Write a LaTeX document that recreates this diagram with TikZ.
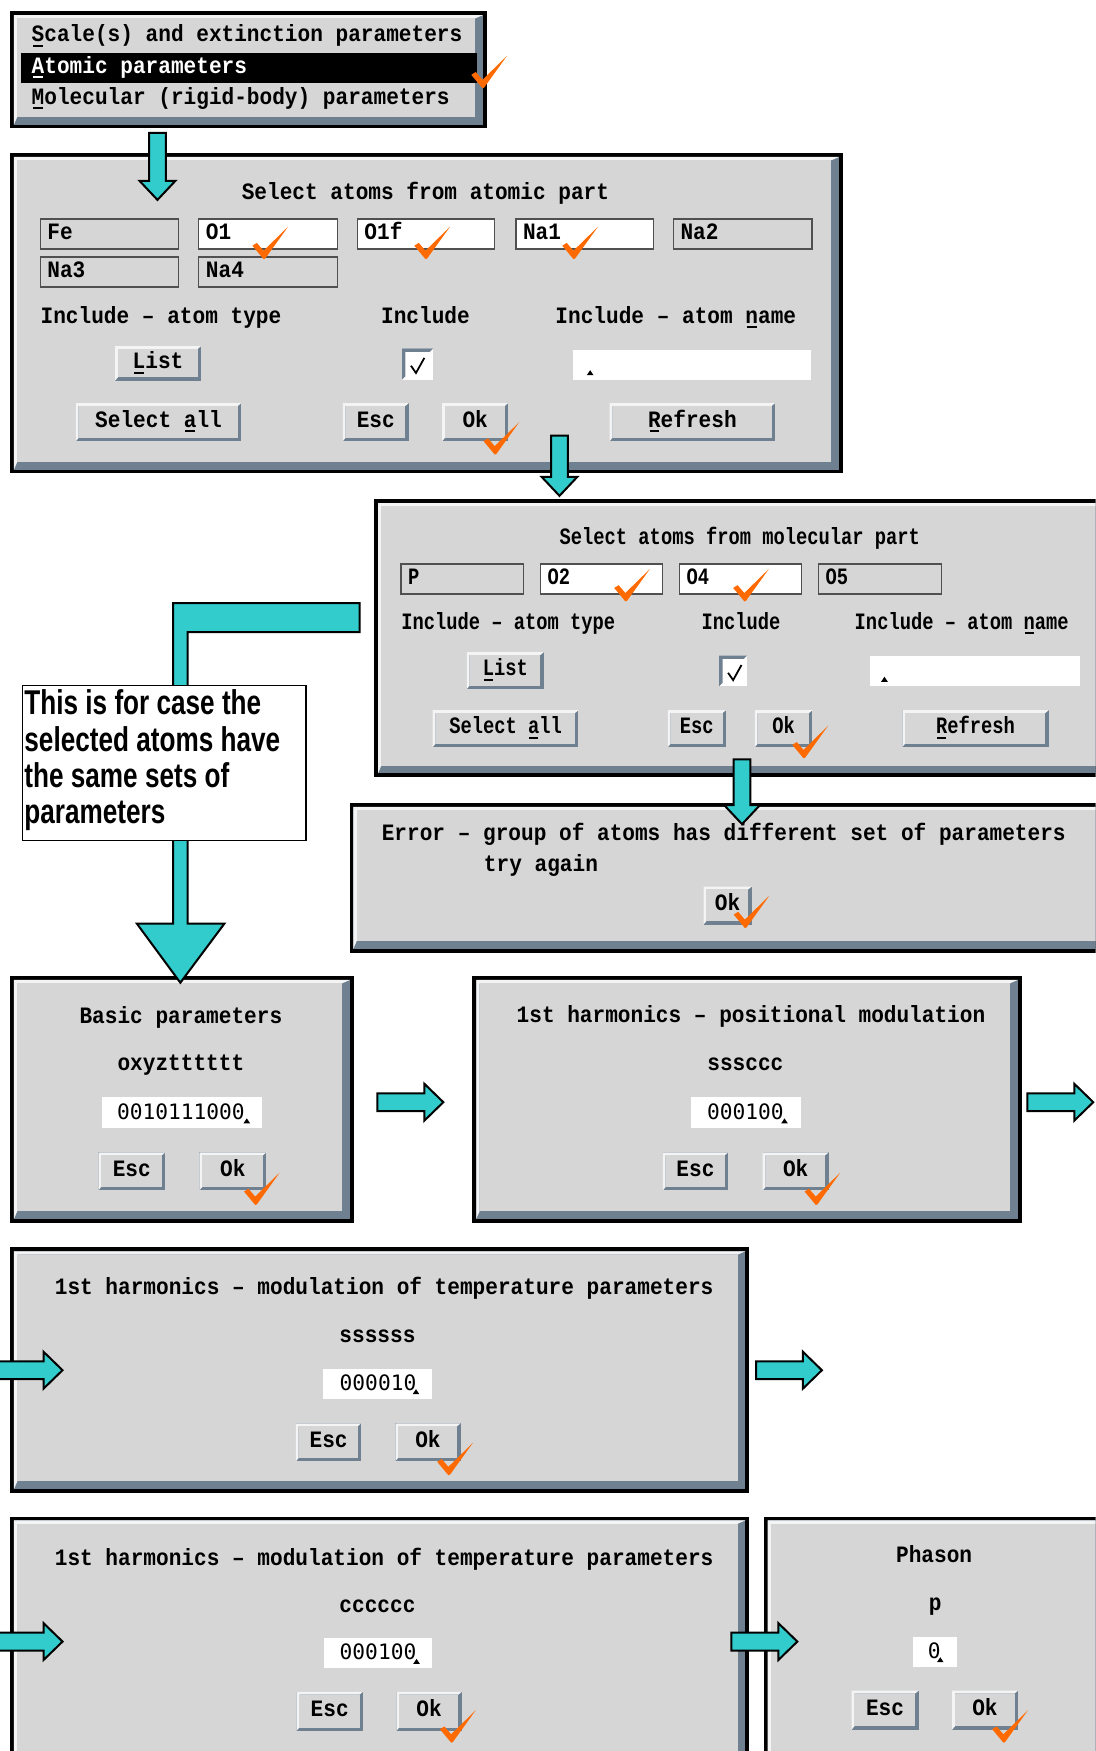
\documentclass[tikz,border=0pt]{standalone}
\usepackage{fontspec}
\usetikzlibrary{positioning}

\newfontfamily\guifont[FakeStretch=0.9]{Liberation Mono}
\newfontfamily\guinarrow[FakeStretch=0.8]{Liberation Mono}
\newfontfamily\valfont{DejaVu Sans Mono}
\newfontfamily\notefont[FakeStretch=0.76]{Liberation Sans}

\definecolor{panelgray}{HTML}{D6D6D6}
\definecolor{bvdark}{HTML}{6F8091}
\definecolor{bvlight}{HTML}{F4F4F4}
\definecolor{fldedge}{HTML}{505050}
\definecolor{flowcyan}{HTML}{33CCCC}
\definecolor{okorange}{HTML}{FF6A00}

% underlined mnemonic letter
\newcommand{\mnemo}[1]{\setbox0=\hbox{#1}\rlap{\hspace{0.12\wd0}\rule[-2.2pt]{0.76\wd0}{0.9pt}}#1}

% window: black frame, bevel, grey face
\newcommand{\guiwin}[4]{%
  \fill[black] (#1,#2) rectangle (#3,#4);
  \fill[bvdark] (#1+3.5,#2+3.5) rectangle (#3-3.5,#4-3.5);
  \fill[bvlight] (#1+3.5,#4-3.5) -- (#1+3.5,#2+3.5) -- (#3-3.5,#2+3.5)
    -- (#3-10.5,#2+6.5) -- (#1+6.5,#2+6.5) -- (#1+6.5,#4-10.5) -- cycle;
  \fill[panelgray] (#1+6.5,#2+6.5) rectangle (#3-10.5,#4-10.5);
}

% raised push button: style, name, x1, y1, x2, y2, label
\newcommand{\guibtn}[7]{%
  \fill[bvdark] (#3,#4) rectangle (#5,#6);
  \fill[bvlight] (#3,#6) -- (#3,#4) -- (#5,#4) -- (#5-3,#4+2.5) -- (#3+2.5,#4+2.5) -- (#3+2.5,#6-3) -- cycle;
  \fill[panelgray] (#3+2.5,#4+2.5) rectangle (#5-3,#6-3);
  \node[#1] (#2) at ({(#3+#5)/2},{(#4+#6)/2}) {#7};
}

% atom name field: style, name, x1, y1, x2, y2, fill, label
\newcommand{\atomfld}[8]{%
  \filldraw[fill=#7, draw=fldedge, line width=0.6pt] (#3,#4) rectangle (#5,#6);
  \node[#1, anchor=west] (#2) at (#3+6,{(#4+#6)/2}) {#8};
}

% value entry with caret: name, x1, y1, x2, y2, text x, caret x, text
\newcommand{\valfld}[8]{%
  \fill[white] (#2,#3) rectangle (#4,#5);
  \node[valtext] (#1) at (#6,{(#3+#5)/2-1}) {#8};
  \fill (#7-3,#5-4) -- (#7,#5-8.5) -- (#7+3,#5-4) -- cycle;
}

% sunken toggle, ticked
\newcommand{\chkbox}[4]{%
  \fill[white] (#1,#2) rectangle (#3,#4);
  \fill[bvdark] (#1,#4) -- (#1,#2) -- (#3,#2) -- (#3-3,#2+3) -- (#1+3,#2+3) -- (#1+3,#4-3) -- cycle;
  \draw[line width=0.8pt] (#1+8,#2+15.5) -- (#1+12.5,#2+22) -- (#1+20,#2+8.5);
}

% orange tick, tip at (x,y)
\newcommand{\okmark}[2]{%
  \fill[okorange] (#1-10,#2-11) -- (#1-6,#2-13.5) -- (#1,#2-6.5) -- (#1+22,#2-28)
    -- (#1+1.5,#2+0.5) -- (#1,#2+1) -- cycle;
}

% block arrows
\newcommand{\rightflow}[3]{% x start, y centre, x tip
  \draw[flowarrow] (#1,#2-8) -- (#3-17,#2-8) -- (#3-17,#2-16.5) -- (#3,#2)
    -- (#3-17,#2+16.5) -- (#3-17,#2+8) -- (#1,#2+8) -- cycle;
}
\newcommand{\downflow}[3]{% x centre, y start, y tip
  \draw[flowarrow] (#1-7.5,#2) -- (#1-7.5,#3-17) -- (#1-16,#3-17) -- (#1,#3)
    -- (#1+16,#3-17) -- (#1+7.5,#3-17) -- (#1+7.5,#2) -- cycle;
}

\begin{document}
\begin{tikzpicture}[
    x=0.5pt, y=-0.5pt,
    gui/.style={font=\guifont\bfseries\fontsize{10.5}{12}\selectfont, inner sep=0pt, text height=6.4pt, text depth=1.8pt},
    guin/.style={gui, font=\guinarrow\bfseries\fontsize{10.5}{12}\selectfont},
    valtext/.style={font=\valfont\fontsize{9.5}{11}\selectfont, inner sep=0pt, text height=6.8pt, text depth=0pt},
    flowarrow/.style={fill=flowcyan, draw=black, line width=0.9pt, line join=miter},
    note/.style={font=\notefont\bfseries\fontsize{15.4}{16.25}\selectfont, inner sep=0pt, align=left, anchor=north west}
]
\useasboundingbox (0,0) rectangle (981,1568);
\clip (0,0) rectangle (981,1568);

% Parameter menu
\guiwin{9}{10}{436}{115}
\node[gui, anchor=west] (menuScale) at (28,33) {\mnemo{S}cale(s) and extinction parameters};
\fill[black] (18.5,47.5) rectangle (427,74.5);
\node[gui, anchor=west, text=white] (menuAtomic) at (28,61) {\mnemo{A}tomic parameters};
\node[gui, anchor=west] (menuMolec) at (28,89) {\mnemo{M}olecular (rigid-body) parameters};

% Atom selection, atomic part
\guiwin{9}{137}{755}{424}
\node[gui] (atTitle) at (381,174) {Select atoms from atomic part};
\atomfld{gui}{atFe}{36}{196}{160}{223}{panelgray}{Fe}
\atomfld{gui}{atOa}{178}{196}{302}{223}{white}{O1}
\atomfld{gui}{atOb}{320}{196}{443}{223}{white}{O1f}
\atomfld{gui}{atNaa}{462}{196}{585}{223}{white}{Na1}
\atomfld{gui}{atNab}{603}{196}{727}{223}{panelgray}{Na2}
\atomfld{gui}{atNac}{36}{230}{160}{257}{panelgray}{Na3}
\atomfld{gui}{atNad}{178}{230}{302}{257}{panelgray}{Na4}
\node[gui, anchor=west] (atType) at (36,285) {Include – atom type};
\node[gui] (atIncl) at (381,285) {Include};
\node[gui, anchor=west] (atName) at (497,285) {Include – atom \mnemo{n}ame};
\guibtn{gui}{atList}{103}{310}{180}{341}{\mnemo{L}ist}
\chkbox{360}{312}{388}{340}
\fill[white] (513,313) rectangle (726,340);
\fill (525.5,336) -- (528.5,331.5) -- (531.5,336) -- cycle;
\guibtn{gui}{atAll}{68}{361}{216}{395}{Select \mnemo{a}ll}
\guibtn{gui}{atEsc}{307}{361}{366}{395}{Esc}
\guibtn{gui}{atOk}{396}{361}{455}{395}{Ok}
\guibtn{gui}{atRefresh}{546}{361}{694}{395}{\mnemo{R}efresh}

% Atom selection, molecular part
\guiwin{335}{447}{1010}{696}
\node[guin] (moTitle) at (662.5,483) {Select atoms from molecular part};
\atomfld{guin}{moP}{359}{505}{468.5}{532}{panelgray}{P}
\atomfld{guin}{moOa}{484}{505}{593}{532}{white}{O2}
\atomfld{guin}{moOb}{608.5}{505}{718}{532}{white}{O4}
\atomfld{guin}{moOc}{733}{505}{843}{532}{panelgray}{O5}
\node[guin, anchor=west] (moType) at (359,559) {Include – atom type};
\node[guin] (moIncl) at (663.5,559) {Include};
\node[guin, anchor=west] (moName) at (765,559) {Include – atom \mnemo{n}ame};
\guibtn{guin}{moList}{418}{584}{487}{617}{\mnemo{L}ist}
\chkbox{644}{587}{669}{614.5}
\fill[white] (779.5,587) rectangle (967.5,614.5);
\fill (789,610.5) -- (792,606) -- (795,610.5) -- cycle;
\guibtn{guin}{moAll}{387.5}{636}{518}{669}{Select \mnemo{a}ll}
\guibtn{guin}{moEsc}{598}{636}{650}{669}{Esc}
\guibtn{guin}{moOk}{676}{636}{727.5}{669}{Ok}
\guibtn{guin}{moRefresh}{808}{636}{939}{669}{\mnemo{R}efresh}

% Error message
\guiwin{313}{719}{1010}{853}
\node[gui, anchor=west] (erMsg) at (341.5,748) {Error – group of atoms has different set of parameters};
\node[gui, anchor=west] (erRetry) at (433,776) {try again};
\guibtn{gui}{erOk}{630}{794}{673}{828}{Ok}

% Basic parameters
\guiwin{9}{874}{317}{1095}
\node[gui] (baTitle) at (162,912) {Basic parameters};
\node[gui] (baCols) at (162,954) {oxyztttttt};
\valfld{baVal}{91}{982.5}{235}{1010}{162}{221}{0010111000}
\guibtn{gui}{baEsc}{88}{1032}{148}{1066}{Esc}
\guibtn{gui}{baOk}{178.5}{1032}{238.5}{1066}{Ok}

% Positional modulation
\guiwin{423}{874}{915}{1095}
\node[gui] (poTitle) at (672.5,911) {1st harmonics – positional modulation};
\node[gui] (poCols) at (667.5,954) {sssccc};
\valfld{poVal}{619}{982.5}{717}{1010}{667.5}{702.5}{000100}
\guibtn{gui}{poEsc}{593.5}{1032}{652}{1066}{Esc}
\guibtn{gui}{poOk}{683}{1032}{742}{1066}{Ok}

% Temperature modulation, sine terms
\guiwin{9}{1117}{671}{1337}
\node[gui] (tsTitle) at (344,1155) {1st harmonics – modulation of temperature parameters};
\node[gui] (tsCols) at (338,1197.5) {ssssss};
\valfld{tsVal}{289.5}{1225.5}{386.5}{1252.5}{338.5}{372.5}{000010}
\guibtn{gui}{tsEsc}{265}{1274.5}{323.5}{1308.5}{Esc}
\guibtn{gui}{tsOk}{354}{1274.5}{412.5}{1308.5}{Ok}

% Temperature modulation, cosine terms
\guiwin{9}{1358}{671}{1590}
\node[gui] (tcTitle) at (344,1397) {1st harmonics – modulation of temperature parameters};
\node[gui] (tcCols) at (338,1439) {cccccc};
\valfld{tcVal}{290}{1467}{387}{1494}{338.5}{373}{000100}
\guibtn{gui}{tcEsc}{265.5}{1515}{325}{1550}{Esc}
\guibtn{gui}{tcOk}{355}{1515}{413.5}{1550}{Ok}

% Phason
\guiwin{684}{1358}{1010}{1590}
\node[gui] (phTitle) at (836.5,1395) {Phason};
\node[gui] (phCols) at (837.5,1438) {p};
\valfld{phVal}{817.5}{1466}{857}{1492.5}{836.5}{842}{0}
\guibtn{gui}{phEsc}{762.5}{1514}{822.5}{1549}{Esc}
\guibtn{gui}{phOk}{852.5}{1514}{911.5}{1549}{Ok}

% Flow arrows
\downflow{141}{119}{179}
\downflow{501}{390}{444}
\downflow{664.5}{680}{738}
\draw[flowarrow] (322,540) -- (155,540) -- (155,827) -- (122.5,827) -- (161.5,880)
  -- (201,827) -- (168,827) -- (168,566) -- (322,566) -- cycle;
\rightflow{338}{987}{397}
\rightflow{920}{987}{979}
\rightflow{-5}{1227}{56}
\rightflow{677}{1227}{736}
\rightflow{-5}{1470}{56}
\rightflow{655}{1470}{714}

% Remark box over the vertical arrow
\filldraw[fill=white, draw=black, line width=0.5pt] (20,614) rectangle (274,753);
\node[note] (sameNote) at (21.5,617.5) {This is for case the\\selected atoms have\\the same sets of\\parameters};

% Chosen items
\okmark{432}{78}
\okmark{236}{231}
\okmark{381}{231}
\okmark{513.5}{231}
\okmark{443}{406}
\okmark{560}{537.5}
\okmark{666.5}{537.5}
\okmark{719.5}{678}
\okmark{667}{830}
\okmark{228.5}{1078}
\okmark{730.5}{1078}
\okmark{401.5}{1320}
\okmark{404}{1559.5}
\okmark{898.5}{1559.5}

\end{tikzpicture}
\end{document}
